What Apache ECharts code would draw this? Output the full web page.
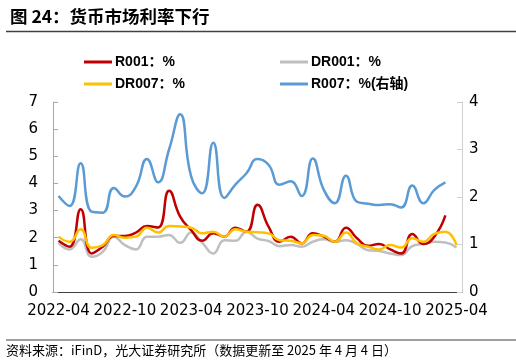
<!DOCTYPE html>
<html><head><meta charset="utf-8">
<script src="https://cdn.jsdelivr.net/npm/echarts@6/dist/echarts.min.js"></script>
<style>html,body{margin:0;padding:0;background:#fff}#c{width:516px;height:363px}</style>
</head><body><div id="c"></div>
<script>
const categories = (function(){const a=[];for(let y=2022,m=4;!(y===2025&&m>4);){a.push(y+'-'+String(m).padStart(2,'0'));m++;if(m>12){m=1;y++;}}return a;})();
const yLeftTicks = [0,1,2,3,4,5,6,7];
const yRightTicks = [0,1,2,3,4];
const r001 = [1.89,1.67,3.05,1.42,1.67,2.06,2.06,2.19,2.43,2.38,3.73,2.78,2.28,1.89,2.16,2.04,2.37,2.22,3.21,2.41,1.85,2.04,1.79,2.16,2.04,1.85,2.37,1.98,1.70,1.77,1.57,1.42,2.14,1.77,2.04,2.82];
const dr001 = [1.81,1.57,1.94,1.30,1.48,2.04,1.73,1.57,2.04,2.04,2.10,1.81,2.19,1.81,1.42,1.91,1.89,2.22,1.97,1.88,1.69,1.73,1.67,1.85,1.94,1.85,1.91,1.77,1.54,1.51,1.42,1.36,1.69,1.77,1.85,1.82,1.64];
const dr007 = [2.04,1.85,2.31,1.63,1.73,2.10,2.00,2.04,2.37,2.19,2.43,2.41,2.37,2.16,2.22,2.04,2.31,2.22,2.20,2.16,1.91,1.89,1.79,2.10,2.07,1.85,2.19,1.79,1.67,1.57,1.73,1.64,1.98,1.85,2.14,2.22,1.73];
const r007 = [2.02,1.81,2.71,1.69,1.67,2.19,2.01,2.22,2.80,2.31,3.00,3.74,2.43,2.08,3.14,1.98,2.26,2.50,2.80,2.68,2.26,2.33,2.02,2.81,2.15,1.87,2.45,1.90,1.86,1.83,1.85,1.78,2.24,1.87,2.15,2.31];
const names = ['R001：%','DR001：%','DR007：%','R007：%(右轴)'];
const colors = ['#C00000','#BFBFBF','#FFC000','#5B9BD5'];

const chart = echarts.init(document.getElementById('c'));
const legendBase = {icon:'rect',itemWidth:28,itemHeight:3,itemGap:0,padding:0,textStyle:{fontSize:14,fontWeight:'bold',color:'#000',fontFamily:'Liberation Sans, Noto Sans CJK SC',padding:[0,0,0,-2]},selectedMode:false};
function line(name,data,color,axis,z){return {name,type:'line',data,yAxisIndex:axis,smooth:0.5,symbol:'none',lineStyle:{width:2.5,color},itemStyle:{color},z};}
chart.setOption({
  animation:false,
  title:{text:'图 24：货币市场利率下行',left:5,top:3,textStyle:{fontSize:17.5,fontWeight:'bold',color:'#000',fontFamily:'Noto Sans CJK SC'}},
  graphic:[
    {type:'line',shape:{x1:6,y1:31.5,x2:516,y2:31.5},style:{stroke:'#404040',lineWidth:1.5}},
    {type:'line',shape:{x1:6,y1:340,x2:516,y2:340},style:{stroke:'#404040',lineWidth:1}},
    {type:'text',left:6,top:344,style:{text:'资料来源：iFinD，光大证券研究所（数据更新至 2025 年 4 月 4 日）',fontSize:13,fill:'#000',fontFamily:'Noto Sans CJK SC'}}
  ],
  legend:[
    Object.assign({},legendBase,{data:[names[0]],left:84,top:55}),
    Object.assign({},legendBase,{data:[names[1]],left:280,top:55}),
    Object.assign({},legendBase,{data:[names[2]],left:84,top:77}),
    Object.assign({},legendBase,{data:[names[3]],left:280,top:77})
  ],
  grid:{left:53,right:54,top:102,bottom:71,containLabel:false},
  xAxis:{type:'category',data:categories,boundaryGap:true,
    axisLine:{lineStyle:{color:'#404040',width:1}},
    axisTick:{interval:5,length:5,lineStyle:{color:'#404040'}},
    axisLabel:{interval:5,fontSize:15,color:'#000',margin:12,fontFamily:'DejaVu Sans'}},
  yAxis:[
    {type:'value',min:yLeftTicks[0],max:yLeftTicks[yLeftTicks.length-1],interval:1,splitLine:{show:false},
     axisLine:{show:true,lineStyle:{color:'#A6A6A6'}},axisTick:{show:true,inside:true,length:5,lineStyle:{color:'#A6A6A6'}},
     axisLabel:{fontSize:15,color:'#000',margin:15,fontFamily:'DejaVu Sans'}},
    {type:'value',min:yRightTicks[0],max:yRightTicks[yRightTicks.length-1],interval:1,splitLine:{show:false},
     axisLine:{show:true,lineStyle:{color:'#D0D0D0'}},axisTick:{show:true,inside:true,length:5,lineStyle:{color:'#D0D0D0'}},
     axisLabel:{fontSize:15,color:'#000',margin:7,fontFamily:'DejaVu Sans'}}
  ],
  series:[
    line(names[3],r007,colors[3],1,1),
    line(names[1],dr001,colors[1],0,2),
    line(names[0],r001,colors[0],0,3),
    line(names[2],dr007,colors[2],0,4)
  ]
});
</script></body></html>
